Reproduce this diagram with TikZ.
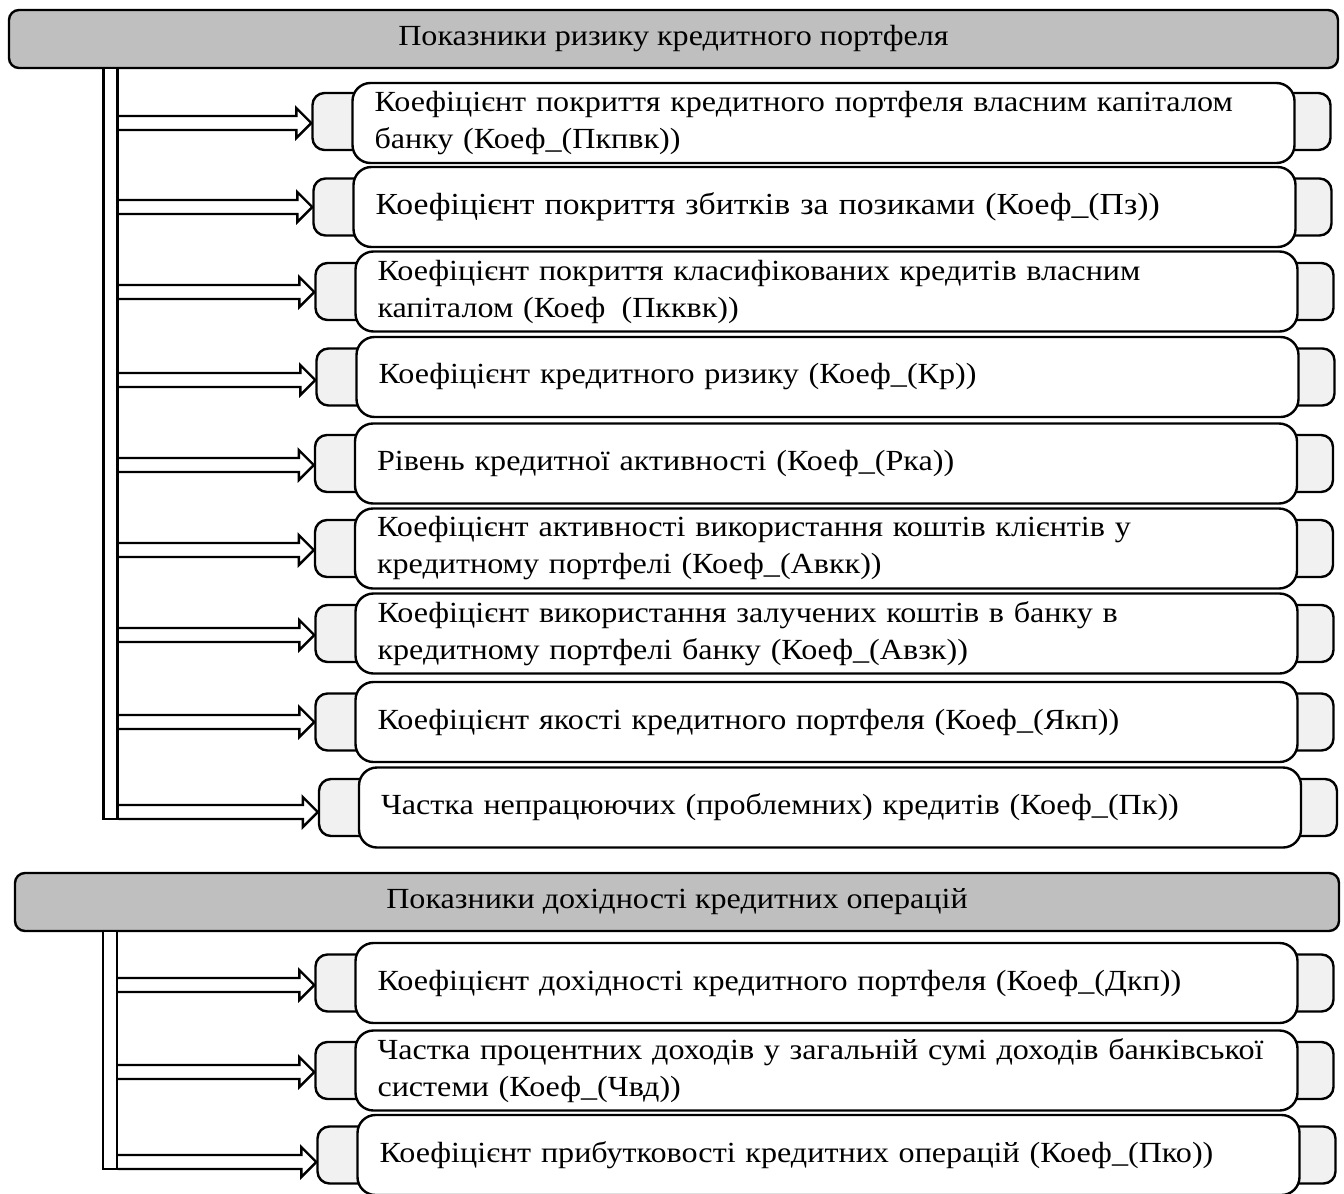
\documentclass[tikz,border=0pt]{standalone}
\usepackage{fontspec}
\setmainfont{Liberation Serif}[FakeStretch=1.10]
\usetikzlibrary{calc}
\definecolor{headgray}{RGB}{191,191,191}
\definecolor{tabgray}{RGB}{241,241,241}
\tikzstyle{header} = [rectangle, rounded corners=5pt, draw=black, line width=1.2pt, fill=headgray, minimum height=29pt, inner sep=0pt]
\tikzstyle{tabs} = [rectangle, rounded corners=6pt, draw=black, line width=1.2pt, fill=tabgray, minimum width=509pt, minimum height=28.5pt, inner sep=0pt]
\tikzstyle{item} = [rectangle, rounded corners=9pt, draw=black, line width=1.2pt, fill=white, minimum width=471pt, minimum height=40pt, inner xsep=11pt, inner ysep=0pt, text width=449pt, align=left]
\tikzstyle{bar} = [rectangle, draw=black, line width=1.2pt, fill=white, minimum width=7pt, inner sep=0pt]
\tikzstyle{arrowline} = [draw=black, line width=1.2pt, line join=miter]
% hollow arrow from the bar to a tab
\newcommand{\hollowarrow}[2]{%
  \draw[arrowline] ($(#1)+(0,-7)$) -- ($(#2)+(-15,-7)$) -- ($(#2)+(-15,-15)$) -- (#2) -- ($(#2)+(-15,15)$) -- ($(#2)+(-15,7)$) -- ($(#1)+(0,7)$);}

\begin{document}
\begin{tikzpicture}[x=0.5pt, y=-0.5pt, font=\fontsize{14.6}{18.5}\selectfont]
    \useasboundingbox (0,0) rectangle (1344,1194);

    % first group
    \node (head1) [header, minimum width=664.5pt] at (673.5,39) {Показники ризику кредитного портфеля};
    \node (bar1) [bar, minimum height=375.5pt] at (110.5,443.5) {};

    \node (t1) [tabs] at (821.5,121.5) {};
    \node (b1) [item] at (823.5,123) {Коефіцієнт покриття кредитного портфеля власним капіталом\\банку (Коеф\_(Пкпвк))};
    \node (t2) [tabs] at (822.5,207) {};
    \node (b2) [item, font=\fontsize{15.3}{18.5}\selectfont] at (824.5,207) {Коефіцієнт покриття збитків за позиками (Коеф\_(Пз))};
    \node (t3) [tabs] at (824.5,291.5) {};
    \node (b3) [item] at (826.5,291.5) {Коефіцієнт покриття класифікованих кредитів власним\\капіталом (Коеф\hphantom{\_}(Пкквк))};
    \node (t4) [tabs] at (825.5,377) {};
    \node (b4) [item] at (827.5,377) {Коефіцієнт кредитного ризику (Коеф\_(Кр))};
    \node (t5) [tabs] at (824,463.5) {};
    \node (b5) [item] at (826,463.5) {Рівень кредитної активності (Коеф\_(Рка))};
    \node (t6) [tabs] at (824,548.5) {};
    \node (b6) [item] at (826,548.5) {Коефіцієнт активності використання коштів клієнтів у\\кредитному портфелі (Коеф\_(Авкк))};
    \node (t7) [tabs] at (824.5,633.5) {};
    \node (b7) [item] at (826.5,633.5) {Коефіцієнт використання залучених коштів в банку в\\кредитному портфелі банку (Коеф\_(Авзк))};
    \node (t8) [tabs] at (824.5,722) {};
    \node (b8) [item] at (826.5,722) {Коефіцієнт якості кредитного портфеля (Коеф\_(Якп))};
    \node (t9) [tabs] at (828,807.5) {};
    \node (b9) [item] at (830,807.5) {Частка непрацюючих (проблемних) кредитів (Коеф\_(Пк))};

    % second group
    \node (head2) [header, minimum width=662pt] at (677,902) {Показники дохідності кредитних операцій};
    \node (bar2) [bar, minimum height=119pt] at (110,1050) {};

    \node (t10) [tabs] at (824.5,983) {};
    \node (b10) [item] at (826.5,983) {Коефіцієнт дохідності кредитного портфеля (Коеф\_(Дкп))};
    \node (t11) [tabs] at (824.5,1070.5) {};
    \node (b11) [item] at (826.5,1070.5) {Частка процентних доходів у загальній сумі доходів банківської\\системи (Коеф\_(Чвд))};
    \node (t12) [tabs] at (826.5,1155) {};
    \node (b12) [item] at (828.5,1155) {Коефіцієнт прибутковості кредитних операцій (Коеф\_(Пко))};

    \foreach \i/\ay in {1/123, 2/207, 3/292, 4/380, 5/465, 6/550, 7/635, 8/722, 9/812}
        \hollowarrow{bar1.east |- 0,\ay}{t\i.west |- 0,\ay};
    \foreach \i/\ay in {10/985, 11/1072, 12/1162}
        \hollowarrow{bar2.east |- 0,\ay}{t\i.west |- 0,\ay};
\end{tikzpicture}
\end{document}
